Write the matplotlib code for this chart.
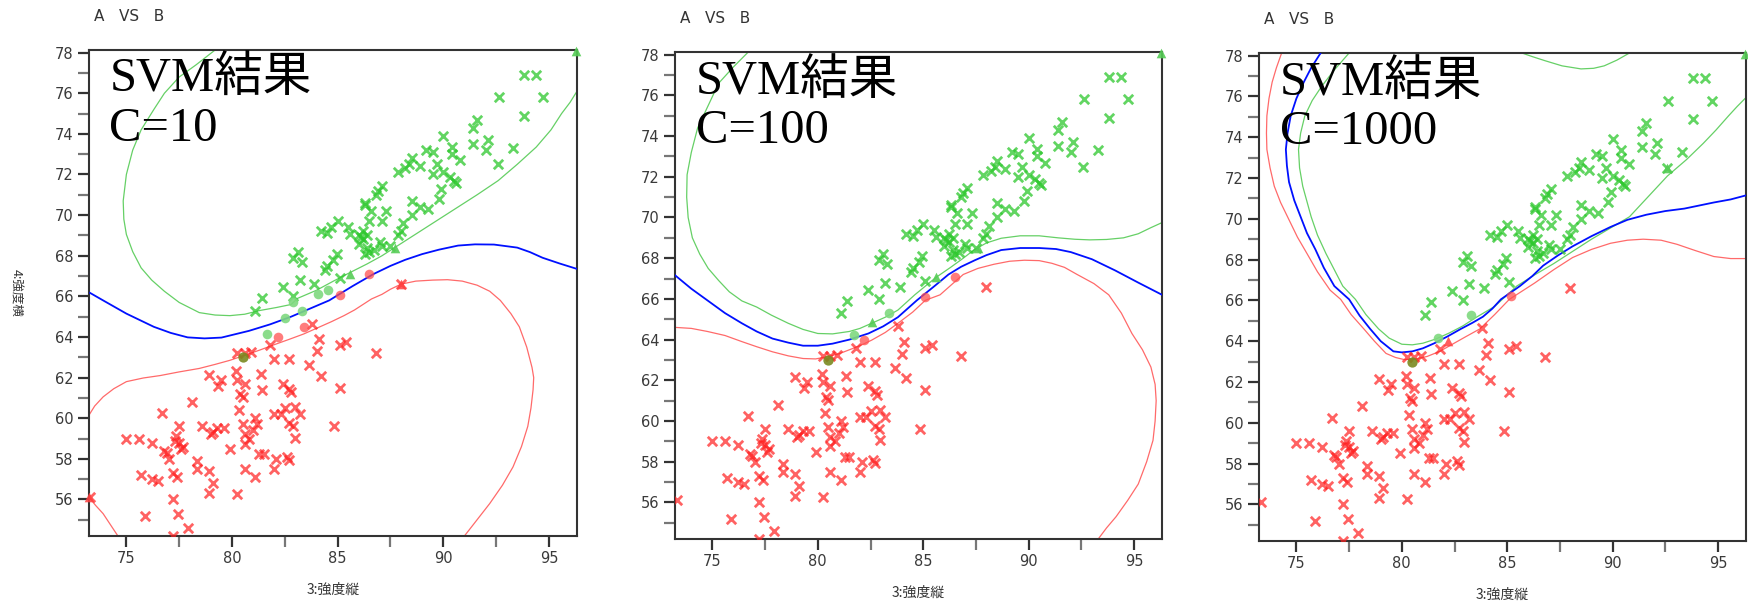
import matplotlib.pyplot as plt
from matplotlib import font_manager
from matplotlib.ticker import MultipleLocator

# ---- sample points (3:強度縦, 4:強度横) ----
green_x = [93.8, 94.4, 92.65, 94.7, 93.8, 91.6, 91.4, 90.0, 91.4, 92.1, 92.0, 93.3, 92.6,
           90.4, 90.4, 90.8, 89.2, 89.5, 88.5, 88.4, 88.9, 87.85, 88.2, 89.7, 89.5, 90.0,
           90.3, 90.5, 90.6, 89.9, 89.8, 87.1, 86.9, 86.8, 88.5, 88.9, 89.3, 88.5, 86.3,
           86.6, 87.3, 87.1, 86.5, 88.1, 88.0, 87.85, 85.0, 84.7, 84.2, 84.5, 85.6, 86.2,
           86.1, 86.0, 86.4, 86.3, 86.7, 87.1, 87.5, 84.95, 84.8, 84.5, 84.4, 83.1, 82.9,
           83.3, 83.2, 85.1, 82.4, 82.9, 81.4, 81.1, 83.9, 85.5, 86.4, 86.2, 86.5, 87.0,
           86.0, 86.3]
green_y = [76.9, 76.9, 75.8, 75.8, 74.9, 74.7, 74.3, 73.9, 73.5, 73.7, 73.2, 73.3, 72.5,
           73.35, 73.0, 72.7, 73.2, 73.1, 72.8, 72.5, 72.4, 72.1, 72.3, 72.5, 72.0, 72.1,
           71.9, 71.7, 71.6, 71.3, 70.8, 71.45, 71.2, 71.0, 70.7, 70.4, 70.3, 70.0, 70.5,
           70.2, 70.2, 69.7, 69.7, 69.6, 69.2, 69.0, 69.7, 69.4, 69.2, 69.1, 69.05, 69.2,
           68.9, 68.6, 68.4, 68.1, 68.3, 68.5, 68.5, 68.1, 67.8, 67.5, 67.3, 68.2, 67.9,
           67.7, 66.8, 66.9, 66.45, 66.0, 65.9, 65.3, 66.6, 69.4, 69.0, 68.8, 68.2, 68.7,
           69.0, 70.6]

red_x = [83.8, 81.8, 80.25, 80.6, 84.1, 84.0, 85.1, 85.4, 86.8, 82.0, 82.7, 83.65, 84.2,
         78.9, 79.5, 79.35, 80.2, 80.25, 80.6, 81.35, 81.4, 82.4, 82.7, 82.8, 80.4, 80.5,
         85.1, 78.1, 76.7, 80.35, 81.1, 81.2, 80.5, 82.0, 82.3, 82.5, 82.97, 83.2, 82.7,
         82.9, 84.85, 78.6, 79.1, 79.3, 79.6, 79.0, 77.5, 77.35, 77.5, 77.6, 75.0, 75.6,
         76.2, 80.6, 80.8, 80.6, 82.96, 79.9, 76.9, 77.0, 78.35, 78.35, 81.3, 81.5, 82.6,
         82.7, 82.0, 80.6, 81.1, 78.9, 79.1, 78.9, 80.25, 75.7, 76.2, 76.5, 77.2, 77.4,
         77.2, 77.45, 75.9, 77.9, 77.2, 73.3, 88.0, 80.9, 77.3, 77.7, 76.8, 81.0, 82.1]
red_y = [64.65, 63.6, 63.2, 63.2, 63.9, 63.3, 63.6, 63.75, 63.2, 62.9, 62.9, 62.6, 62.1,
         62.15, 61.9, 61.6, 62.3, 61.9, 61.7, 62.2, 61.4, 61.7, 61.45, 61.3, 61.2, 61.05,
         61.5, 60.8, 60.25, 60.4, 60.0, 59.7, 59.7, 60.2, 60.2, 60.5, 60.55, 60.2, 59.75,
         59.6, 59.6, 59.6, 59.3, 59.5, 59.5, 59.2, 59.6, 59.1, 58.8, 58.5, 59.0, 59.0,
         58.8, 59.2, 59.0, 58.75, 59.05, 58.5, 58.3, 58.0, 57.9, 57.5, 58.25, 58.25, 58.1,
         57.95, 57.5, 57.5, 57.1, 57.4, 56.8, 56.3, 56.25, 57.2, 57.0, 56.9, 57.3, 57.1,
         56.0, 55.3, 55.2, 54.6, 54.2, 56.1, 66.6, 63.25, 58.9, 58.6, 58.4, 59.4, 58.0]

# ---- separating curve and margins, one set per C ----
c10_blue_x = [73.28, 73.9, 75.0, 76.3, 77.1, 77.9, 78.7, 79.5, 80.8, 81.8, 82.8, 83.7,
              84.6, 85.7, 86.7, 87.5, 88.2, 89.0, 89.8, 90.7, 91.5, 92.4, 93.5, 94.1,
              94.7, 95.5, 96.33]
c10_blue_y = [66.17, 65.8, 65.15, 64.5, 64.2, 63.98, 63.93, 63.97, 64.3, 64.62, 65.0, 65.4,
              65.8, 66.5, 67.1, 67.5, 67.8, 68.08, 68.3, 68.5, 68.56, 68.55, 68.4, 68.18,
              67.9, 67.62, 67.35]
c10_green_x = [79.2, 78.3, 77.5, 76.8, 76.3, 75.7, 75.3, 75.0, 74.85, 74.88, 75.0, 75.3,
               75.7, 76.2, 76.8, 77.5, 78.45, 79.2, 79.9, 80.6, 81.3, 82.1, 82.8, 83.1,
               84.0, 84.8, 85.6, 86.4, 87.1, 87.7, 88.3, 88.9, 89.8, 90.7, 91.6, 92.6,
               93.5, 94.4, 95.1, 95.6, 96.0, 96.33]
c10_green_y = [78.13, 77.4, 76.8, 76.0, 75.2, 74.2, 73.2, 72.0, 70.7, 69.8, 69.05, 68.2,
               67.4, 66.8, 66.25, 65.7, 65.2, 65.08, 65.05, 65.12, 65.3, 65.45, 65.6, 65.9,
               66.3, 66.75, 67.18, 67.6, 68.0, 68.4, 68.8, 69.2, 69.8, 70.4, 71.0, 71.7,
               72.5, 73.35, 74.2, 75.0, 75.55, 76.1]
c10_red_x = [73.23, 73.5, 73.9, 74.4, 75.0, 75.8, 76.6, 77.5, 78.45, 79.2, 79.9, 80.6,
             81.3, 82.0, 82.75, 83.4, 84.05, 84.7, 85.3, 85.8, 86.2, 86.6, 87.1, 87.5,
             88.0, 88.7, 89.5, 90.2, 90.9, 91.6, 92.2, 92.7, 93.2, 93.6, 93.95, 94.2,
             94.28, 94.25, 94.15, 94.0, 93.7, 93.3, 92.8, 92.2, 91.6, 91.0]
c10_red_y = [60.15, 60.6, 61.05, 61.45, 61.8, 61.98, 62.1, 62.28, 62.45, 62.65, 62.85, 63.1,
             63.35, 63.62, 63.9, 64.15, 64.45, 64.75, 65.05, 65.33, 65.6, 65.87, 66.1, 66.35,
             66.6, 66.75, 66.8, 66.82, 66.75, 66.55, 66.25, 65.8, 65.15, 64.5, 63.5, 62.5,
             62.0, 61.4, 60.5, 59.6, 58.6, 57.6, 56.7, 55.8, 55.0, 54.2]
c10_red2_x = [73.23, 73.55, 73.9, 74.25, 74.6]
c10_red2_y = [56.1, 55.7, 55.3, 54.75, 54.2]

c100_blue_x = [73.23, 74.0, 74.76, 75.6, 76.4, 77.1, 77.85, 78.6, 79.3, 80.0, 80.7, 81.5,
               82.4, 83.1, 83.8, 84.7, 85.5, 86.2, 86.8, 87.45, 88.0, 88.7, 89.6, 90.5,
               91.3, 92.0, 93.0, 94.1, 95.2, 96.33]
c100_blue_y = [67.16, 66.5, 65.93, 65.3, 64.8, 64.4, 64.05, 63.85, 63.7, 63.7, 63.8, 64.0,
               64.3, 64.65, 65.1, 65.93, 66.6, 67.2, 67.58, 67.9, 68.15, 68.4, 68.5, 68.5,
               68.45, 68.3, 67.95, 67.4, 66.8, 66.2]
c100_green_x = [76.7, 76.0, 75.3, 74.8, 74.3, 74.0, 73.8, 73.78, 73.85, 74.05, 74.4, 74.8,
                75.3, 75.8, 76.4, 77.1, 77.8, 78.6, 79.3, 80.0, 80.7, 81.5, 82.0, 82.55,
                83.2, 83.8, 84.6, 85.6, 86.3, 86.9, 87.4, 88.0, 88.7, 89.6, 90.5, 91.4,
                92.2, 92.9, 93.7, 94.5, 95.2, 95.8, 96.33]
c100_green_y = [78.13, 77.4, 76.6, 75.5, 74.4, 73.2, 72.1, 71.0, 70.0, 69.0, 68.2, 67.5,
                66.9, 66.35, 65.9, 65.6, 65.2, 64.8, 64.5, 64.3, 64.28, 64.4, 64.55, 64.8,
                65.1, 65.45, 66.2, 67.05, 67.55, 68.0, 68.4, 68.75, 68.98, 69.1, 69.1, 69.0,
                68.93, 68.9, 68.92, 69.0, 69.2, 69.5, 69.75]
c100_red_x = [73.23, 74.0, 74.76, 75.6, 76.4, 77.1, 77.85, 78.6, 79.3, 79.9, 80.4, 81.0,
              81.5, 82.0, 82.55, 83.2, 83.8, 84.5, 85.1, 85.8, 86.4, 86.9, 87.6, 88.35,
              89.1, 89.8, 90.5, 91.1, 91.7, 92.3, 93.1, 93.8, 94.4, 94.9, 95.4, 95.8,
              96.0, 96.05, 96.0, 95.9, 95.6, 95.2, 94.7, 94.15, 93.7, 93.3]
c100_red_y = [64.6, 64.55, 64.4, 64.2, 63.9, 63.65, 63.4, 63.2, 63.07, 63.05, 63.15, 63.3,
              63.5, 63.7, 63.97, 64.35, 64.8, 65.35, 65.93, 66.2, 66.75, 67.2, 67.5, 67.7,
              67.85, 67.9, 67.88, 67.75, 67.55, 67.2, 66.75, 66.2, 65.3, 64.3, 63.5, 62.65,
              61.8, 61.0, 60.0, 59.05, 58.0, 56.9, 56.1, 55.3, 54.75, 54.2]

c1000_blue_x = [76.15, 75.7, 75.35, 75.0, 74.73, 74.58, 74.5, 74.55, 74.65, 74.9, 75.2,
                75.5, 75.9, 76.3, 76.8, 77.5, 78.0, 78.5, 79.0, 79.6, 80.0, 80.5, 81.0,
                81.55, 82.2, 82.8, 83.35, 83.85, 84.3, 84.7, 85.6, 86.2, 86.7, 87.4, 88.1,
                89.0, 89.9, 90.7, 91.6, 92.5, 93.4, 94.1, 94.8, 95.6, 96.33]
c1000_blue_y = [78.13, 77.4, 76.7, 75.9, 75.05, 74.2, 73.4, 72.6, 71.8, 70.9, 70.1, 69.3,
                68.5, 67.6, 66.7, 66.05, 65.25, 64.6, 64.0, 63.5, 63.45, 63.5, 63.65, 63.9,
                64.25, 64.6, 64.9, 65.2, 65.6, 66.05, 66.7, 67.2, 67.7, 68.2, 68.65, 69.15,
                69.6, 69.95, 70.2, 70.38, 70.5, 70.65, 70.8, 70.95, 71.15]
c1000_green_x = [77.5, 76.8, 76.2, 75.75, 75.4, 75.2, 75.1, 75.15, 75.3, 75.5, 75.7, 76.0,
                 76.4, 76.8, 77.2, 77.8, 78.3, 78.9, 79.4, 80.0, 80.5, 81.0, 81.6, 82.25,
                 82.9, 83.5, 84.4, 85.45, 86.3, 87.2, 88.1, 89.0, 89.9, 90.8, 91.7, 92.6,
                 93.5, 94.3, 94.9, 95.5, 95.9, 96.33]
c1000_green_y = [78.13, 77.3, 76.5, 75.8, 75.05, 74.2, 73.4, 72.5, 71.6, 70.85, 70.1, 69.2,
                 68.3, 67.5, 66.7, 66.05, 65.3, 64.6, 64.15, 63.85, 63.82, 63.9, 64.1, 64.4,
                 64.75, 65.15, 65.7, 66.7, 67.25, 67.8, 68.4, 69.0, 69.55, 70.1, 71.1, 72.1,
                 72.9, 73.7, 74.35, 75.05, 75.5, 75.95]
c1000_green2_x = [85.7, 86.2, 86.8, 87.6, 88.5, 89.1, 89.6, 90.2, 90.8]
c1000_green2_y = [78.13, 77.95, 77.75, 77.5, 77.35, 77.38, 77.5, 77.78, 78.13]
c1000_red_x = [74.3, 74.05, 73.85, 73.7, 73.6, 73.58, 73.6, 73.75, 73.95, 74.25, 74.65,
               75.05, 75.5, 76.0, 76.6, 77.1, 77.6, 78.2, 78.7, 79.25, 79.7, 80.1, 80.6,
               81.2, 81.8, 82.4, 83.0, 83.7, 84.4, 85.1, 86.3, 87.2, 88.1, 89.0, 89.9,
               90.7, 91.45, 92.3, 93.05, 93.9, 94.8, 95.6, 96.33]
c1000_red_y = [78.13, 77.4, 76.7, 75.9, 75.05, 74.2, 73.4, 72.5, 71.6, 70.8, 69.95, 69.1,
               68.3, 67.4, 66.5, 66.05, 65.3, 64.6, 64.0, 63.4, 63.2, 63.1, 63.12, 63.25,
               63.5, 63.85, 64.2, 64.6, 65.3, 66.05, 66.85, 67.5, 68.1, 68.5, 68.8, 68.95,
               69.0, 68.95, 68.75, 68.45, 68.15, 68.05, 68.05]

# ---- highlighted points per C: circles and triangles ----
c10_gcirc_x = [84.05, 84.55, 81.65, 82.5, 82.9, 83.3]
c10_gcirc_y = [66.1, 66.3, 64.15, 64.95, 65.7, 65.3]
c10_rcirc_x = [83.4, 82.2, 86.5, 85.1]
c10_rcirc_y = [64.5, 64.0, 67.1, 66.05]
c10_gtri_x = [85.6, 87.7, 96.3]
c10_gtri_y = [67.1, 68.4, 78.1]
c10_rtri_x = [88.0, 73.25]
c10_rtri_y = [66.6, 56.1]

c100_gcirc_x = [83.4, 81.7]
c100_gcirc_y = [65.3, 64.25]
c100_rcirc_x = [82.2, 86.5, 85.1]
c100_rcirc_y = [64.0, 67.1, 66.1]
c100_gtri_x = [82.55, 85.6, 87.6, 96.3]
c100_gtri_y = [64.87, 67.1, 68.5, 78.1]
c100_rtri_x = []
c100_rtri_y = []

c1000_gcirc_x = [81.7, 83.3]
c1000_gcirc_y = [64.15, 65.3]
c1000_rcirc_x = [85.2]
c1000_rcirc_y = [66.2]
c1000_gtri_x = [92.6, 96.3]
c1000_gtri_y = [72.5, 78.1]
c1000_rtri_x = [82.2]
c1000_rtri_y = [64.0]

# support vector lying among the red samples
olive_x = [80.5]
olive_y = [63.0]

c_values = ['10', '100', '1000']
xlim = (73.23, 96.33)
ylim = (54.2, 78.13)

panels = [
    dict(blue=[(c10_blue_x, c10_blue_y)],
         green=[(c10_green_x, c10_green_y)],
         red=[(c10_red_x, c10_red_y), (c10_red2_x, c10_red2_y)],
         gcirc=(c10_gcirc_x, c10_gcirc_y), rcirc=(c10_rcirc_x, c10_rcirc_y),
         gtri=(c10_gtri_x, c10_gtri_y), rtri=(c10_rtri_x, c10_rtri_y)),
    dict(blue=[(c100_blue_x, c100_blue_y)],
         green=[(c100_green_x, c100_green_y)],
         red=[(c100_red_x, c100_red_y)],
         gcirc=(c100_gcirc_x, c100_gcirc_y), rcirc=(c100_rcirc_x, c100_rcirc_y),
         gtri=(c100_gtri_x, c100_gtri_y), rtri=(c100_rtri_x, c100_rtri_y)),
    dict(blue=[(c1000_blue_x, c1000_blue_y)],
         green=[(c1000_green_x, c1000_green_y), (c1000_green2_x, c1000_green2_y)],
         red=[(c1000_red_x, c1000_red_y)],
         gcirc=(c1000_gcirc_x, c1000_gcirc_y), rcirc=(c1000_rcirc_x, c1000_rcirc_y),
         gtri=(c1000_gtri_x, c1000_gtri_y), rtri=(c1000_rtri_x, c1000_rtri_y)),
]

# axes rectangles in figure fraction
boxes = [(0.0509, 0.1111, 0.2792, 0.806),
         (0.3862, 0.1061, 0.2786, 0.8076),
         (0.7203, 0.1028, 0.2786, 0.8093)]

GREEN = '#2ec82e'
RED = '#ff2020'
AXC = '#333333'

# narrow sans for the tick numbers if it is there
installed = {f.name for f in font_manager.fontManager.ttflist}
if 'Liberation Sans Narrow' in installed:
    tick_font, tick_size = 'Liberation Sans Narrow', 12
else:
    tick_font, tick_size = 'DejaVu Sans', 10.5
jp_font = ['Noto Sans CJK JP', 'DejaVu Sans']

fig = plt.figure(figsize=(17.48, 6.03), dpi=100)

for i, (box, p, c) in enumerate(zip(boxes, panels, c_values)):
    ax = fig.add_axes(box)

    # margins and decision curve
    for xs, ys in p['green']:
        ax.plot(xs, ys, color='#66d066', lw=0.9, zorder=2, solid_joinstyle='round')
    for xs, ys in p['red']:
        ax.plot(xs, ys, color='#ff6a6a', lw=0.9, zorder=2, solid_joinstyle='round')
    for xs, ys in p['blue']:
        ax.plot(xs, ys, color='#0010ff', lw=1.3, zorder=3, solid_joinstyle='round')

    # samples
    ax.scatter(green_x, green_y, marker='x', s=46, linewidths=2.0, color=GREEN, alpha=0.75, zorder=4)
    ax.scatter(red_x, red_y, marker='x', s=46, linewidths=2.0, color=RED, alpha=0.7, zorder=4)

    ax.scatter(*p['gcirc'], marker='o', s=48, color='#7fd97f', alpha=0.9, lw=0, zorder=5)
    ax.scatter(*p['rcirc'], marker='o', s=48, color='#ff5050', alpha=0.75, lw=0, zorder=5)
    ax.scatter(*p['gtri'], marker='^', s=48, color='#55cc55', alpha=0.9, lw=0, zorder=5, clip_on=False)
    ax.scatter(*p['rtri'], marker='^', s=48, color='#ff4040', alpha=0.85, lw=0, zorder=5, clip_on=False)
    ax.scatter(olive_x, olive_y, marker='o', s=55, color='#7a8a20', alpha=0.9, lw=0, zorder=6)

    ax.set_xlim(*xlim)
    ax.set_ylim(*ylim)
    ax.xaxis.set_major_locator(MultipleLocator(5))
    ax.xaxis.set_minor_locator(MultipleLocator(2.5))
    ax.yaxis.set_major_locator(MultipleLocator(2))
    ax.yaxis.set_minor_locator(MultipleLocator(1))
    ax.tick_params(which='both', direction='out', length=8, width=1.6, color=AXC,
                   labelcolor='#3a3a3a', pad=3)
    ax.tick_params(which='minor', color='#777777')
    for lab in ax.get_xticklabels() + ax.get_yticklabels():
        lab.set_family(tick_font)
        lab.set_fontsize(tick_size)
    for sp in ax.spines.values():
        sp.set_color(AXC)
        sp.set_linewidth(1.5)

    ax.set_xlabel('3:強度縦', family=jp_font, fontsize=10, color='#333333', labelpad=12)
    if i == 0:
        ax.set_ylabel('4:強度横', family=jp_font, fontsize=9, color='#333333',
                      rotation=270, va='center', ha='center')
        ax.yaxis.set_label_coords(-0.15, 0.5)

    ax.text(0.01, 1.068, 'A   VS   B', transform=ax.transAxes, ha='left', va='center',
            fontsize=11, color='#333333')
    ax.text(0.042, 0.985, 'SVM結果\nC=' + c, transform=ax.transAxes, ha='left', va='top',
            fontsize=35, color='black', family=['Liberation Serif', 'Noto Sans CJK JP'],
            linespacing=1.15, zorder=7)

fig.savefig('out.png', dpi=100)
